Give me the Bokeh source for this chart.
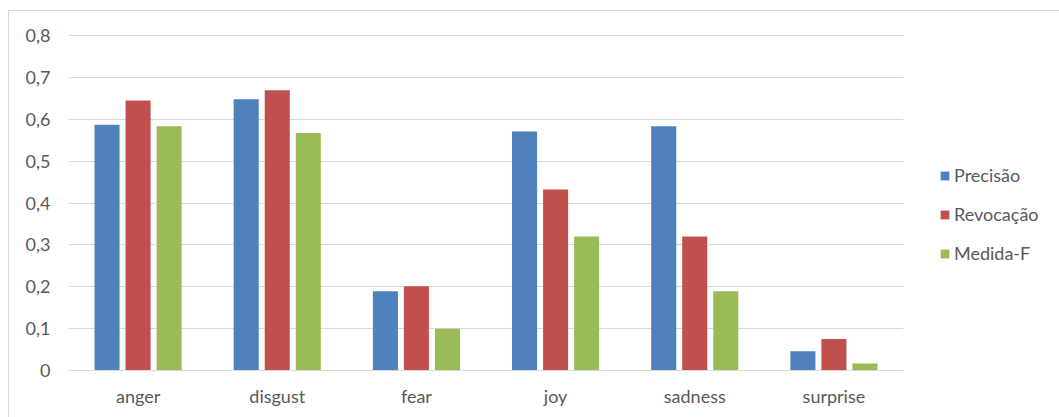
from bokeh.plotting import figure
from bokeh.models import ColumnDataSource, FactorRange, Legend, LegendItem, CustomJSTickFormatter, FixedTicker, Range1d
from bokeh.transform import dodge
from bokeh.embed import file_html
from bokeh.resources import INLINE

categories = ["anger", "disgust", "fear", "joy", "sadness", "surprise"]
precisao = [0.587, 0.648, 0.189, 0.571, 0.583, 0.046]
revocacao = [0.645, 0.669, 0.201, 0.432, 0.320, 0.075]
medida_f = [0.583, 0.567, 0.100, 0.320, 0.189, 0.017]
series_names = ["Precisão", "Revocação", "Medida-F"]
y_ticks = [0, 0.1, 0.2, 0.3, 0.4, 0.5, 0.6, 0.7, 0.8]

colors = ["#4f81bd", "#c0504d", "#9bbb59"]
FONT = "Lato"
TXT = "#595959"

src = ColumnDataSource(dict(cat=categories, p=precisao, r=revocacao, f=medida_f))

p = figure(x_range=FactorRange(*categories, range_padding=0), y_range=Range1d(0, 0.8024),
           frame_width=835, frame_height=336,
           min_border_left=59, min_border_top=23, min_border_right=157, min_border_bottom=48,
           output_backend="svg", toolbar_location=None,
           margin=(10, 0, 0, 8),
           styles={"border-left": "1px solid #d9d9d9", "border-top": "1px solid #d9d9d9"})
p.outline_line_color = None

offs = [-0.223, 0, 0.223]
rs = []
for col, off, c in zip(["p", "r", "f"], offs, colors):
    r = p.vbar(x=dodge("cat", off, range=p.x_range), top=col, width=0.18, source=src,
               fill_color=c, line_color=None)
    rs.append(r)

p.xgrid.grid_line_color = None
p.ygrid.grid_line_color = "#d9d9d9"
p.ygrid.grid_line_width = 1
p.yaxis.ticker = FixedTicker(ticks=y_ticks)
p.yaxis.formatter = CustomJSTickFormatter(code="return tick == 0 ? '0' : tick.toFixed(1).replace('.', ',');")
p.yaxis.axis_line_color = None
p.yaxis.major_tick_line_color = None
p.yaxis.minor_tick_line_color = None
p.yaxis.major_label_standoff = 12
p.xaxis.axis_line_color = "#d9d9d9"
p.xaxis.major_tick_line_color = None
p.xaxis.minor_tick_line_color = None
p.xaxis.major_label_standoff = 8
for ax in (p.xaxis, p.yaxis):
    ax.major_label_text_font = FONT
    ax.major_label_text_font_size = "18px"
    ax.major_label_text_color = TXT

legend = Legend(items=[LegendItem(label=n, renderers=[r]) for n, r in zip(series_names, rs)],
                location=(36, 106), border_line_color=None, background_fill_alpha=0,
                padding=0, margin=0, spacing=17, glyph_width=11, glyph_height=11,
                label_standoff=4, label_text_font=FONT, label_text_font_size="18px",
                label_text_color=TXT, label_height=22)
p.add_layout(legend, "right")

open("out.html", "w").write(file_html(p, INLINE))
